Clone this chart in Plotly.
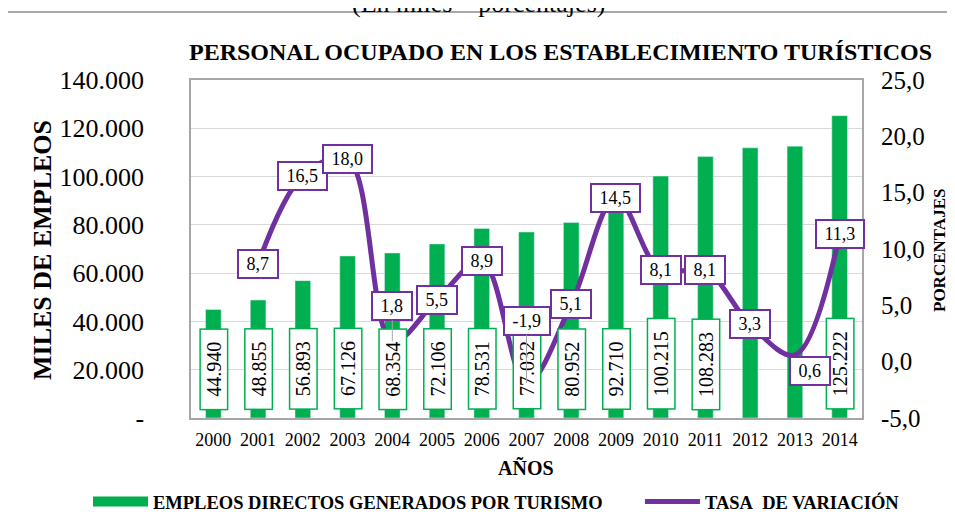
import plotly.graph_objects as go

# Datos

anios = [2000, 2001, 2002, 2003, 2004, 2005, 2006, 2007, 2008, 2009, 2010, 2011, 2012, 2013, 2014]
empleos = [44940, 48855, 56893, 67126, 68354, 72106, 78531, 77032, 80952, 92710,
           100215, 108283, 111900, 112600, 125222]
tasa = [None, 8.7, 16.5, 18.0, 1.8, 5.5, 8.9, -1.9, 5.1, 14.5, 8.1, 8.1, 3.3, 0.6, 11.3]
sin_etiqueta = [2012, 2013]

ticks_izq = [0, 20000, 40000, 60000, 80000, 100000, 120000, 140000]
ticks_der = [-5, 0, 5, 10, 15, 20, 25]

VERDE = "#00B050"
MORADO = "#7030A0"
GRIS = "#A6A6A6"
FUENTE = "Liberation Serif, Times New Roman, serif"
NB = "\u00a0"

# page body has an 8px margin, so the figure is drawn 8px smaller and
# reference pixel positions are shifted by OFF
OFF = 8
W, H = 955 - OFF, 515 - OFF
L, T = 191 - OFF, 80 - OFF
R, B = 93, 97
PW, PH = W - L - R, H - T - B


def px(x):
    return (x - OFF - L) / PW


def py(y):
    return (H - B - (y - OFF)) / PH


def miles(v):
    return "-" if v == 0 else f"{v:,}".replace(",", ".")


def pct(v):
    return f"{v:.1f}".replace(".", ",")


fig = go.Figure()

fig.add_trace(go.Bar(
    x=anios,
    y=empleos,
    width=0.35,
    marker=dict(color=VERDE),
    showlegend=False,
    hoverinfo="skip"
))
# legend entry for bars (wide green swatch like the original)
fig.add_trace(go.Scatter(
    x=[None], y=[None],
    mode="lines",
    name="<b>EMPLEOS DIRECTOS GENERADOS POR TURISMO</b>" + NB * 7,
    line=dict(color=VERDE, width=10)
))
fig.add_trace(go.Scatter(
    x=anios,
    y=tasa,
    yaxis="y2",
    mode="lines",
    name=f"<b>TASA{NB} DE VARIACIÓN</b>",
    line=dict(color=MORADO, width=5, shape="spline", smoothing=1)
))

anotaciones = []

# Bar value boxes
for a, v in zip(anios, empleos):
    if a in sin_etiqueta:
        continue
    anotaciones.append(dict(
        x=a, y=0, xref="x", yref="y",
        text=NB * 2 + miles(v) + NB * 2,
        textangle=-90,
        showarrow=False,
        yanchor="bottom",
        yshift=8,
        font=dict(family=FUENTE, size=20, color="black"),
        bgcolor="white",
        bordercolor=VERDE,
        borderwidth=1.5,
        borderpad=2
    ))

# Line value boxes
desplaza = {2004: (0, -35), 2007: (0, -62), 2013: (15, 16)}
for a, v in zip(anios, tasa):
    if v is None:
        continue
    dx, dy = desplaza.get(a, (0, 0))
    caja = dict(
        x=a, y=v, xref="x", yref="y2",
        text=NB + pct(v) + NB,
        font=dict(family=FUENTE, size=18, color="black"),
        bgcolor="white",
        bordercolor=MORADO,
        borderwidth=2,
        borderpad=3
    )
    if a in (2004, 2007):
        caja.update(showarrow=True, ax=dx, ay=dy, arrowhead=0,
                    arrowwidth=1, arrowcolor=GRIS, standoff=0)
    else:
        caja.update(showarrow=False, xshift=dx, yshift=-dy)
    anotaciones.append(caja)

# Titles
titulos = [
    (478, 3, "(En miles – porcentajes)", 26, 0),
    (560, 52, "<b>PERSONAL OCUPADO EN LOS ESTABLECIMIENTO TURÍSTICOS</b>", 24, 0),
    (42, 250, "<b>MILES DE EMPLEOS</b>", 26, -90),
    (939, 250, "<b>PORCENTAJES</b>", 17, -90),
    (526, 468, "<b>AÑOS</b>", 20, 0),
]
for x, y, texto, size, ang in titulos:
    anotaciones.append(dict(
        x=px(x), y=py(y), xref="paper", yref="paper", showarrow=False,
        xanchor="center", yanchor="middle",
        text=texto, textangle=ang,
        font=dict(family=FUENTE, size=size, color="black")
    ))

fig.update_layout(
    width=W, height=H,
    margin=dict(l=L, r=R, t=T, b=B, autoexpand=False),
    paper_bgcolor="white",
    plot_bgcolor="white",
    font=dict(family=FUENTE, color="black"),
    annotations=anotaciones,
    xaxis=dict(
        range=[1999.5, 2014.5],
        tickmode="array", tickvals=anios,
        tickfont=dict(size=18),
        ticklabelstandoff=5,
        showgrid=False, zeroline=False,
        showline=True, linecolor=GRIS, linewidth=1.5, mirror=True,
        automargin=False
    ),
    yaxis=dict(
        range=[0, 140000],
        tickmode="array", tickvals=ticks_izq,
        ticktext=[miles(v) for v in ticks_izq],
        tickfont=dict(size=26),
        ticklabelstandoff=40,
        showgrid=True, gridcolor="#D9D9D9", gridwidth=1.2,
        zeroline=False,
        showline=True, linecolor=GRIS, linewidth=1.5, mirror=True,
        automargin=False
    ),
    yaxis2=dict(
        range=[-5, 25],
        overlaying="y", side="right",
        tickmode="array", tickvals=ticks_der,
        ticktext=[pct(v) for v in ticks_der],
        tickfont=dict(size=25),
        ticklabelstandoff=18,
        showgrid=False, zeroline=False, showline=False,
        automargin=False
    ),
    legend=dict(
        orientation="h",
        x=px(88), xanchor="left",
        y=py(483), yanchor="top",
        font=dict(family=FUENTE, size=18.5, color="black"),
        itemwidth=55,
        bgcolor="rgba(0,0,0,0)"
    ),
    shapes=[dict(
        type="rect", xref="paper", yref="paper",
        x0=px(4), y0=py(12), x1=px(962), y1=py(522),
        line=dict(color="#8C8C8C", width=1.5)
    )],
    showlegend=True
)

fig.write_html("out.html")
